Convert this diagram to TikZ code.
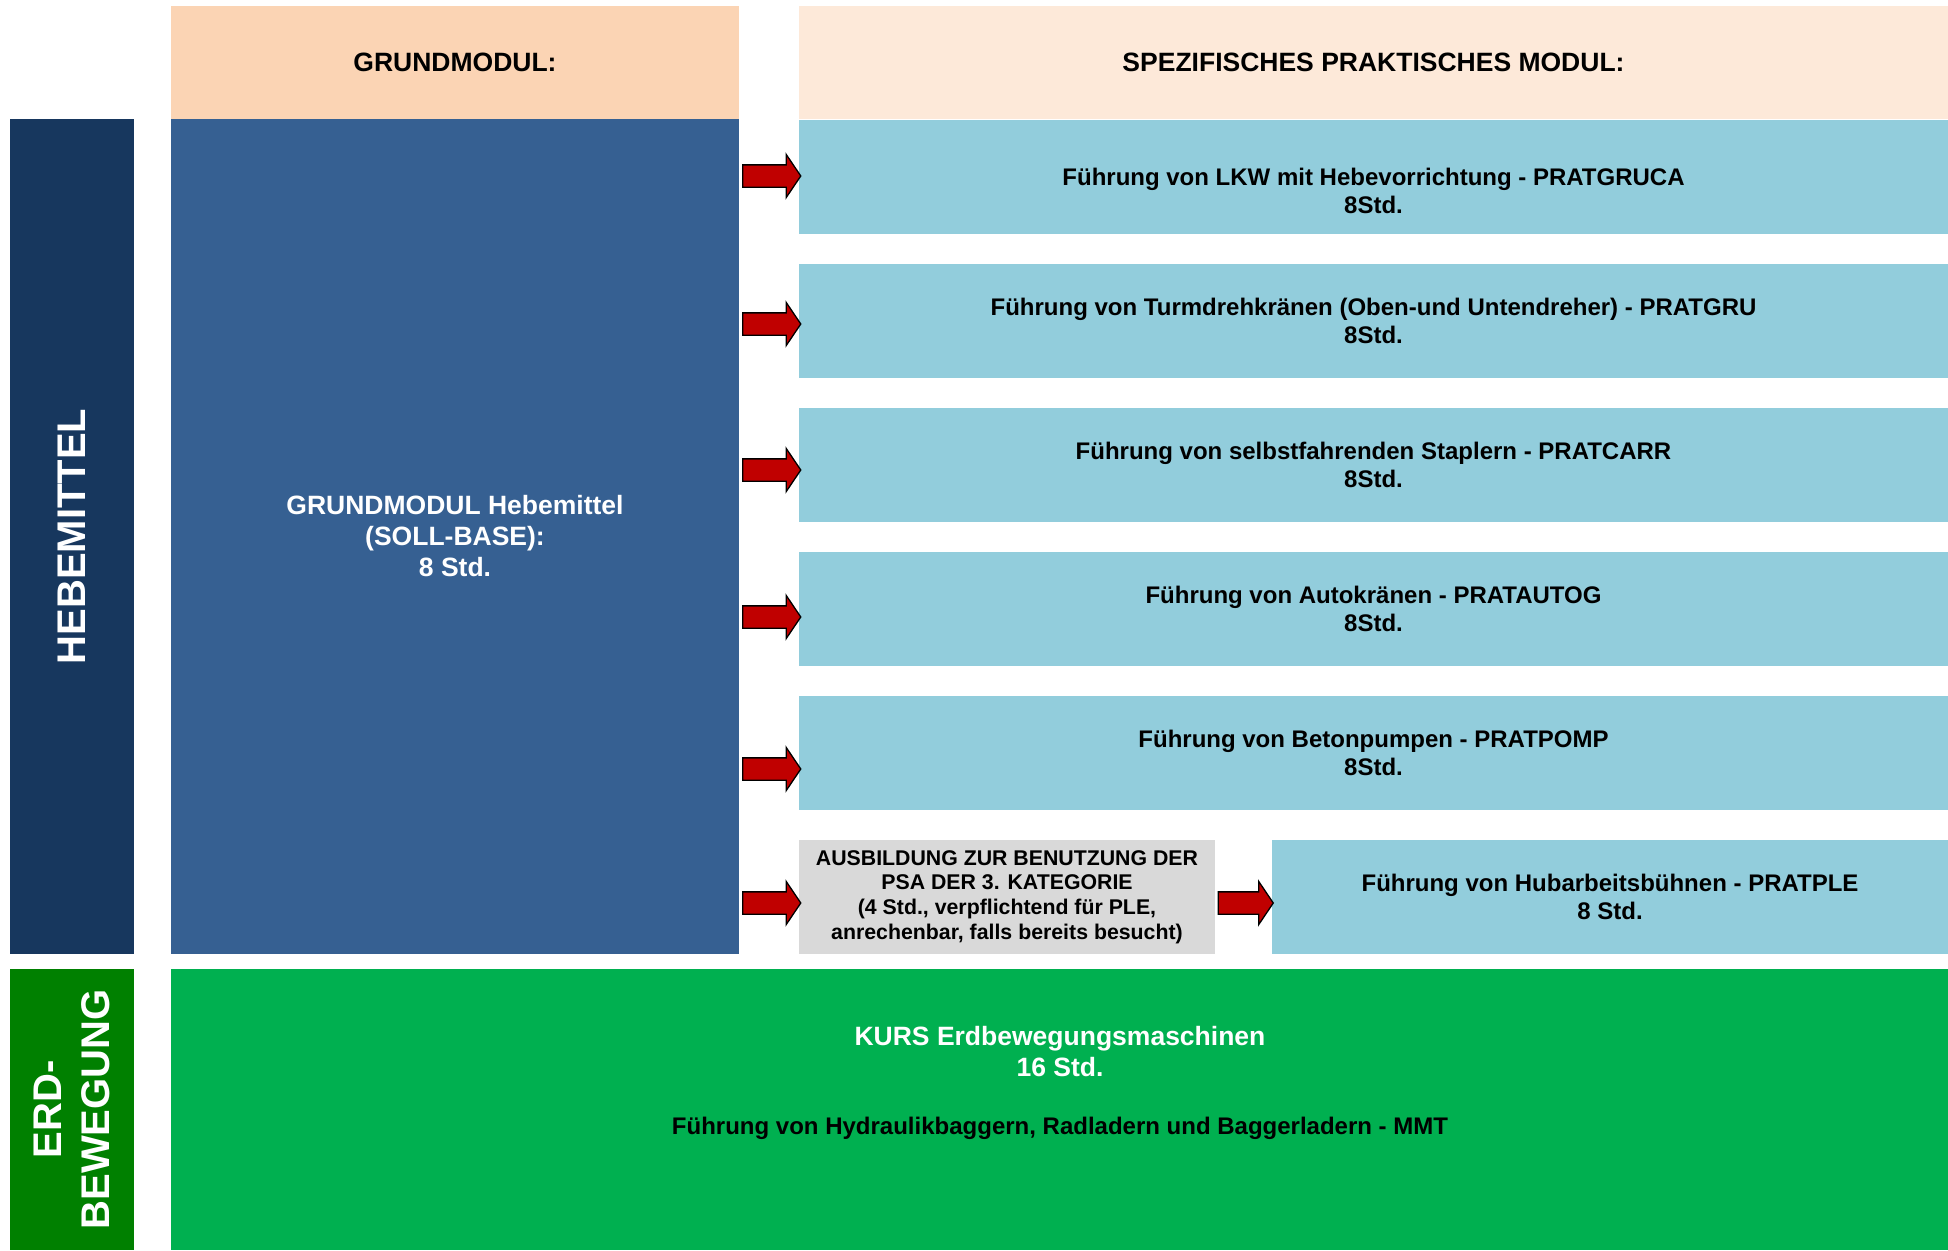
\documentclass[tikz,border=0pt]{standalone}
\usepackage{fontspec}
\setmainfont{Liberation Sans}
\usetikzlibrary{shapes.arrows,calc}
\definecolor{cNavy}{HTML}{17375E}
\definecolor{cBlue}{HTML}{366092}
\definecolor{cPeachA}{HTML}{FBD4B4}
\definecolor{cPeachB}{HTML}{FDE9D9}
\definecolor{cLight}{HTML}{92CDDC}
\definecolor{cGray}{HTML}{D9D9D9}
\definecolor{cGreenA}{HTML}{008000}
\definecolor{cGreenB}{HTML}{00B050}
\definecolor{cRed}{HTML}{C00000}
\begin{document}
\begin{tikzpicture}[x=1pt,y=-1pt,
  panel/.style={rectangle, inner sep=0pt, outer sep=0pt, anchor=north west, align=center},
  fhead/.style={font=\fontsize{26.5}{31}\selectfont\bfseries},
  frow/.style={font=\fontsize{24}{27.5}\selectfont\bfseries},
  fgray/.style={font=\fontsize{21.3}{24.8}\selectfont\bfseries},
  fside/.style={font=\fontsize{40}{48}\selectfont\bfseries},
  rowbox/.style={panel, fill=cLight, minimum height=114pt, frow},
  blockarrow/.style={single arrow, fill=cRed, draw=black, line width=1.3pt,
    inner xsep=0pt, inner ysep=10.5pt, single arrow head extend=10.5pt,
    single arrow tip angle=112, outer sep=0pt}
]
\useasboundingbox (0,0) rectangle (1948,1250);
\fill[white] (0,0) rectangle (1948,1250);

% headers
\node[panel, fill=cPeachA, minimum width=568pt, minimum height=113pt, fhead] (hA) at (171,6) {GRUNDMODUL:};
\node[panel, fill=cPeachB, minimum width=1149pt, minimum height=113pt, fhead] (hB) at (799,6) {SPEZIFISCHES PRAKTISCHES MODUL:};

% left side bars
\node[panel, fill=cNavy, minimum width=124pt, minimum height=835pt] (sideH) at (10,119) {};
\node[rotate=90, fside, text=white] (lblH) at (sideH.center) {HEBEMITTEL};
\node[panel, fill=cGreenA, minimum width=124pt, minimum height=281pt] (sideE) at (10,969) {};
\node[rotate=90, fside, text=white, align=center] (lblE) at (sideE.center) {ERD-\\BEWEGUNG};

% base module
\node[panel, fill=cBlue, minimum width=568pt, minimum height=835pt, fhead, text=white] (gm) at (171,119) {GRUNDMODUL Hebemittel\\(SOLL-BASE):\\8 Std.};

% specific modules
\node[rowbox, minimum width=1149pt] (r1) at (799,120) {};
\node[frow, align=center] (t1) at ($(r1.center)+(0,14)$) {Führung von LKW mit Hebevorrichtung - PRATGRUCA\\8Std.};
\node[rowbox, minimum width=1149pt] (r2) at (799,264) {Führung von Turmdrehkränen (Oben-und Untendreher) - PRATGRU\\8Std.};
\node[rowbox, minimum width=1149pt] (r3) at (799,408) {Führung von selbstfahrenden Staplern - PRATCARR\\8Std.};
\node[rowbox, minimum width=1149pt] (r4) at (799,552) {Führung von Autokränen - PRATAUTOG\\8Std.};
\node[rowbox, minimum width=1149pt] (r5) at (799,696) {Führung von Betonpumpen - PRATPOMP\\8Std.};
\node[panel, fill=cGray, minimum width=416pt, minimum height=114pt, fgray] (psa) at (799,840) {AUSBILDUNG ZUR BENUTZUNG DER\\PSA DER 3. KATEGORIE\\(4 Std., verpflichtend für PLE,\\anrechenbar, falls bereits besucht)};
\node[rowbox, minimum width=676pt] (r6) at (1272,840) {Führung von Hubarbeitsbühnen - PRATPLE\\8 Std.};

% earth moving
\node[panel, fill=cGreenB, minimum width=1777pt, minimum height=281pt] (em) at (171,969) {};
\node[fhead, text=white, align=center] (kurs) at (1060,1052) {KURS Erdbewegungsmaschinen\\16 Std.};
\node[frow, text=black] (mmt) at (1060,1128) {Führung von Hydraulikbaggern, Radladern und Baggerladern - MMT};

% block arrows
\node[blockarrow, minimum height=58pt] (a1) at (768,176) {};
\node[blockarrow, minimum height=58pt] (a2) at (768,324) {};
\node[blockarrow, minimum height=58pt] (a3) at (768,470) {};
\node[blockarrow, minimum height=58pt] (a4) at (768,617) {};
\node[blockarrow, minimum height=58pt] (a5) at (768,769) {};
\node[blockarrow, minimum height=58pt] (a6) at (768,903) {};
\node[blockarrow, minimum height=55pt] (a7) at (1242,903) {};
\end{tikzpicture}
\end{document}
